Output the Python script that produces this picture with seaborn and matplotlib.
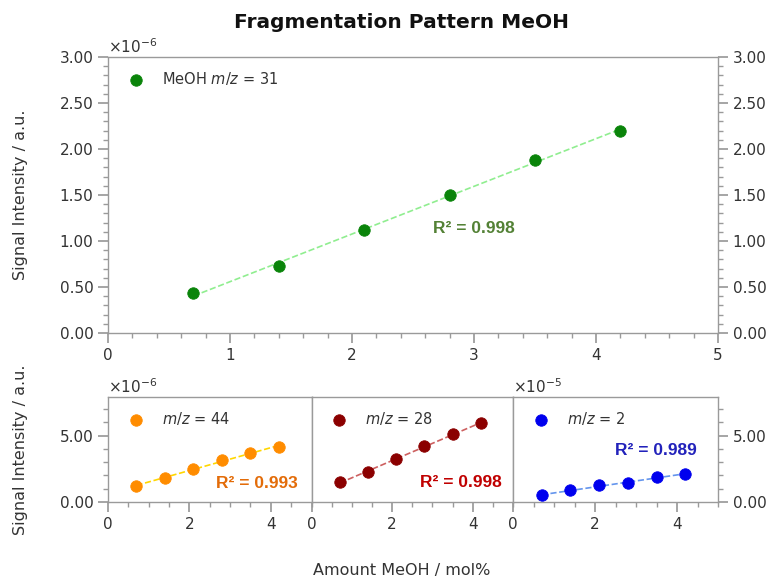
import numpy as np
import pandas as pd
import seaborn as sns
import matplotlib
matplotlib.use("Agg")
import matplotlib.pyplot as plt
from matplotlib import ticker

# ------------------------------------------------------------
# DONNEES
# ------------------------------------------------------------
mol_pct = [0.7, 1.4, 2.1, 2.8, 3.5, 4.2]
sig_31 = [0.43e-6, 0.725e-6, 1.12e-6, 1.50e-6, 1.88e-6, 2.20e-6]
sig_44 = [1.20e-6, 1.83e-6, 2.50e-6, 3.13e-6, 3.71e-6, 4.16e-6]
sig_28 = [1.50e-6, 2.25e-6, 3.20e-6, 4.18e-6, 5.13e-6, 5.93e-6]
sig_2 = [0.50e-5, 0.88e-5, 1.25e-5, 1.43e-5, 1.88e-5, 2.08e-5]

labels = ["MeOH $m/z$ = 31", "$m/z$ = 44", "$m/z$ = 28", "$m/z$ = 2"]
r2_txt = ["R² = 0.998", "R² = 0.993", "R² = 0.998", "R² = 0.989"]

GRIS = "#9a9a9a"


class Fmt2(ticker.ScalarFormatter):
    def _set_format(self):
        self.format = "%.2f"


def formatter():
    f = Fmt2(useMathText=True)
    f.set_scientific(True)
    f.set_powerlimits((0, 0))
    return f


sns.set_theme(style="ticks")
plt.rcParams["font.family"] = ["DejaVu Sans"]
plt.rcParams.update({
    "axes.edgecolor": GRIS,
    "xtick.color": GRIS,
    "ytick.color": GRIS,
    "xtick.labelcolor": "#333333",
    "ytick.labelcolor": "#333333",
    "xtick.labelsize": 11,
    "ytick.labelsize": 11,
    "xtick.direction": "out",
    "ytick.direction": "out",
    "xtick.major.size": 7,
    "ytick.major.size": 7,
    "xtick.minor.size": 3.5,
    "ytick.minor.size": 3.5,
    "axes.linewidth": 1.0,
})

fig = plt.figure(figsize=(7.74, 5.81), dpi=100)
W, H = 774, 581


def box(x0, y0, x1, y1):
    return [x0 / W, 1 - y1 / H, (x1 - x0) / W, (y1 - y0) / H]


def draw(ax, y, col, fitcol, lab):
    df = pd.DataFrame({"x": mol_pct, "y": y})
    sns.regplot(data=df, x="x", y="y", ax=ax, scatter=False, ci=None,
                line_kws={"color": fitcol, "ls": "--", "lw": 1.2})
    sns.scatterplot(data=df, x="x", y="y", ax=ax, color=col, s=68,
                    edgecolor=col, linewidth=0.6, label=lab, zorder=3)
    ax.set_xlabel("")
    ax.set_ylabel("")
    leg = ax.legend(loc="upper left", frameon=False, fontsize=10.5,
                    handletextpad=0.8)
    for t in leg.get_texts():
        t.set_color("#333333")


# ------------------------------------------------------------
# 1. PANNEAU DU HAUT : m/z = 31
# ------------------------------------------------------------
ax_top = fig.add_axes(box(108, 57, 718, 333))
draw(ax_top, sig_31, "#0a840a", "#90ee90", labels[0])
ax_top.set_xlim(0, 5)
ax_top.set_ylim(0, 3e-6)
ax_top.xaxis.set_major_locator(ticker.MultipleLocator(1))
ax_top.xaxis.set_minor_locator(ticker.MultipleLocator(0.2))
ax_top.yaxis.set_major_locator(ticker.MultipleLocator(0.5e-6))
ax_top.yaxis.set_minor_locator(ticker.MultipleLocator(0.1e-6))
ax_top.yaxis.set_major_formatter(formatter())
ax_top.tick_params(axis="y", which="both", left=True, right=True,
                   labelleft=True, labelright=True)
ax_top.yaxis.set_offset_position("left")
ax_top.yaxis.get_offset_text().set_fontsize(11)
ax_top.yaxis.get_offset_text().set_color("#333333")
ax_top.text(3.0, 1.14e-6, r2_txt[0], color="#538135", fontsize=12.5,
            fontweight="bold", family="Liberation Sans", ha="center", va="center")
ax_top.set_ylabel("Signal Intensity / a.u.", fontsize=11.5, color="#333333")
ax_top.yaxis.set_label_coords(-0.131, 0.5)

# ------------------------------------------------------------
# 2. PANNEAUX DU BAS : m/z = 44, 28, 2
# ------------------------------------------------------------
xs = [108, 311.5, 513, 718]
bas = [
    (sig_44, "#ff8c00", "#ffd700", labels[1], r2_txt[1], "#e36c09", (3.66, 1.40e-6)),
    (sig_28, "#8b0000", "#cd6060", labels[2], r2_txt[2], "#c00000", (3.70, 1.43e-6)),
    (sig_2, "#0000ee", "#6495ed", labels[3], r2_txt[3], "#2222bb", (3.48, 3.88e-5)),
]
for i, (y, col, fcol, lab, r2, rcol, pos) in enumerate(bas):
    ax = fig.add_axes(box(xs[i], 397, xs[i + 1], 502))
    draw(ax, y, col, fcol, lab)
    ax.set_xlim(0, 5)
    ax.xaxis.set_major_locator(ticker.MultipleLocator(2))
    ax.xaxis.set_minor_locator(ticker.MultipleLocator(0.5))
    if i == 2:
        ax.set_ylim(0, 7.9e-5)
        ax.yaxis.set_major_locator(ticker.MultipleLocator(5e-5))
        ax.yaxis.set_minor_locator(ticker.MultipleLocator(1e-5))
    else:
        ax.set_ylim(0, 7.9e-6)
        ax.yaxis.set_major_locator(ticker.MultipleLocator(5e-6))
        ax.yaxis.set_minor_locator(ticker.MultipleLocator(1e-6))
    ax.yaxis.set_major_formatter(formatter())
    ax.yaxis.get_offset_text().set_fontsize(11)
    ax.yaxis.get_offset_text().set_color("#333333")
    if i == 0:
        ax.set_ylabel("Signal Intensity / a.u.", fontsize=11.5, color="#333333")
        ax.yaxis.set_label_coords(-0.393, 0.5)
    elif i == 1:
        ax.tick_params(axis="y", which="both", left=False, labelleft=False)
        ax.yaxis.get_offset_text().set_visible(False)
    else:
        ax.yaxis.tick_right()
        ax.yaxis.set_offset_position("left")
    ax.text(pos[0], pos[1], r2, color=rcol, fontsize=12.5, fontweight="bold",
            family="Liberation Sans", ha="center", va="center")

fig.text(402 / W, 1 - 22 / H, "Fragmentation Pattern MeOH", ha="center",
         va="center", fontsize=14.5, fontweight="bold", color="#111111")
fig.text(402 / W, 1 - 571 / H, "Amount MeOH / mol%", ha="center",
         va="center", fontsize=11.5, color="#333333")

fig.savefig("out.png", dpi=100)
